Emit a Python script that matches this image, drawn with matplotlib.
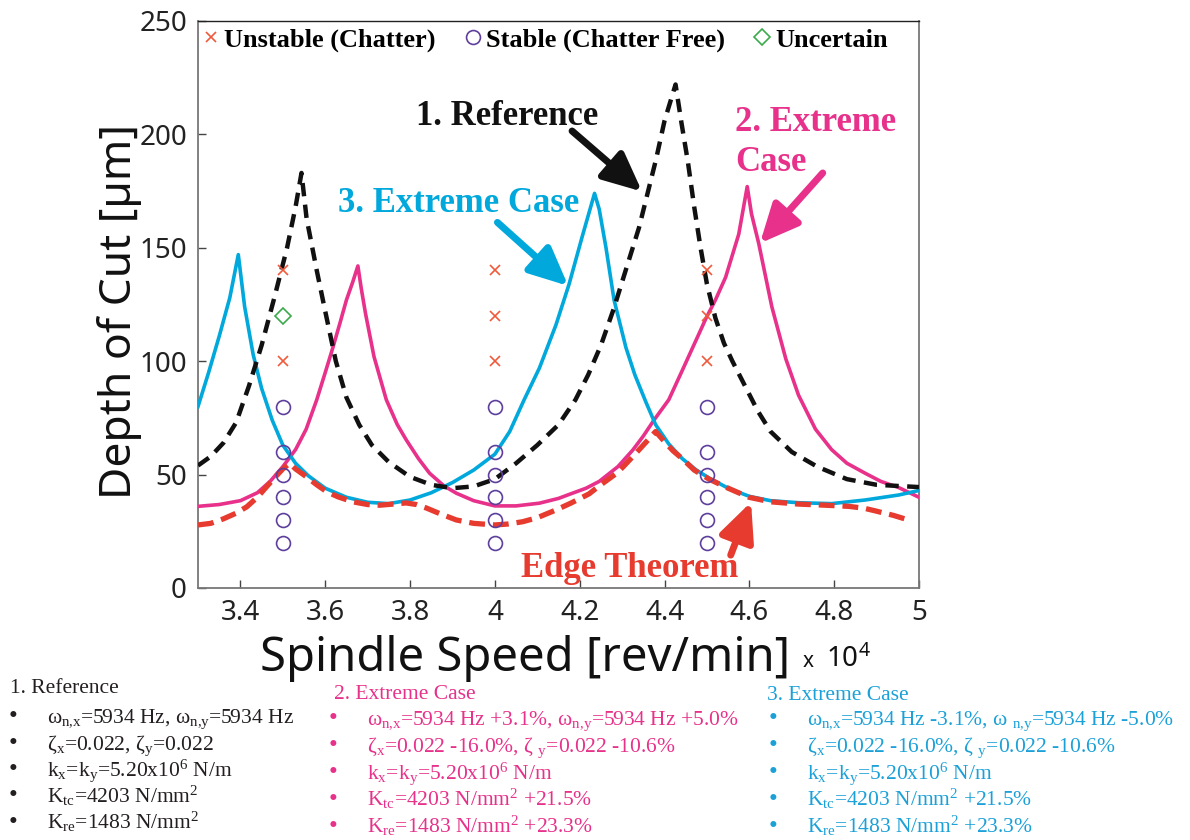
import matplotlib
matplotlib.use("Agg")
import matplotlib.pyplot as plt
from matplotlib.lines import Line2D

# -----------------------------
# Data
# spindle speed in 1e4 rev/min, depth of cut in um
# -----------------------------
ref_speed = [3.300, 3.330, 3.360, 3.390, 3.420, 3.450, 3.480, 3.510, 3.530, 3.544,
             3.556, 3.580, 3.600, 3.625, 3.650, 3.680, 3.710, 3.750, 3.800, 3.850,
             3.900, 3.950, 4.000, 4.050, 4.100, 4.150, 4.190, 4.220, 4.250, 4.280,
             4.310, 4.340, 4.360, 4.380, 4.400, 4.426, 4.440, 4.455, 4.470, 4.485,
             4.500, 4.520, 4.540, 4.560, 4.590, 4.620, 4.650, 4.700, 4.760, 4.830,
             4.900, 5.000]
ref_depth = [54.0, 58.0, 64.0, 73.0, 89.0, 107.0, 128.0, 150.0, 168.0, 183.0,
             163.0, 140.0, 122.0, 100.0, 84.0, 72.0, 63.0, 55.5, 49.0, 45.5,
             44.0, 44.8, 48.0, 55.0, 63.0, 72.0, 83.0, 94.0, 107.0, 123.0,
             141.0, 159.0, 174.0, 189.0, 206.0, 222.0, 205.0, 188.0, 168.0, 150.0,
             134.0, 119.0, 108.0, 100.0, 89.0, 78.0, 69.0, 60.0, 53.5, 48.0,
             45.5, 44.5]

ext2_speed = [3.300, 3.350, 3.400, 3.440, 3.470, 3.500, 3.530, 3.555, 3.580, 3.600,
              3.618, 3.635, 3.650, 3.665, 3.677, 3.685, 3.695, 3.715, 3.744, 3.770,
              3.791, 3.820, 3.846, 3.880, 3.909, 3.950, 4.000, 4.050, 4.105, 4.150,
              4.183, 4.215, 4.246, 4.290, 4.325, 4.350, 4.375, 4.410, 4.442, 4.481,
              4.498, 4.520, 4.544, 4.575, 4.595, 4.605, 4.622, 4.653, 4.686, 4.716,
              4.756, 4.794, 4.830, 4.873, 4.910, 4.952, 5.000]
ext2_depth = [36.0, 36.8, 38.5, 42.0, 47.0, 53.5, 61.0, 70.0, 83.0, 95.0,
              106.0, 117.0, 127.0, 135.0, 142.0, 132.0, 121.0, 102.0, 83.0, 72.0,
              65.3, 57.0, 50.6, 45.0, 41.8, 38.5, 36.2, 36.2, 37.4, 39.5,
              41.8, 44.0, 47.0, 53.5, 60.8, 67.0, 74.0, 83.0, 96.0, 112.0,
              119.0, 127.0, 137.0, 156.0, 177.0, 165.0, 152.0, 124.0, 101.0, 85.0,
              70.0, 61.0, 55.0, 50.6, 47.0, 44.3, 40.0]

ext3_speed = [3.300, 3.325, 3.350, 3.375, 3.395, 3.410, 3.430, 3.450, 3.475, 3.500,
              3.530, 3.560, 3.600, 3.650, 3.700, 3.750, 3.800, 3.850, 3.900, 3.950,
              4.000, 4.035, 4.069, 4.105, 4.144, 4.175, 4.206, 4.235, 4.246, 4.262,
              4.281, 4.309, 4.330, 4.356, 4.379, 4.410, 4.442, 4.475, 4.505, 4.550,
              4.600, 4.650, 4.716, 4.794, 4.873, 4.952, 5.000]
ext3_depth = [80.0, 95.0, 111.0, 128.0, 147.0, 124.0, 103.0, 88.0, 74.0, 63.0,
              55.0, 49.5, 44.0, 40.0, 37.8, 37.2, 38.8, 42.0, 46.5, 52.0,
              59.0, 69.0, 83.0, 97.0, 116.0, 134.0, 155.0, 174.0, 167.0, 150.0,
              127.0, 106.0, 94.0, 82.0, 72.0, 63.5, 57.0, 52.0, 48.5, 44.0,
              40.4, 38.5, 37.6, 37.2, 38.8, 41.0, 43.0]

edge_speed = [3.300, 3.330, 3.360, 3.390, 3.415, 3.440, 3.462, 3.480, 3.500, 3.516,
              3.530, 3.556, 3.580, 3.603, 3.630, 3.665, 3.700, 3.728, 3.760, 3.791,
              3.815, 3.838, 3.870, 3.909, 3.950, 4.000, 4.030, 4.065, 4.100, 4.144,
              4.180, 4.222, 4.246, 4.290, 4.325, 4.350, 4.379, 4.400, 4.420, 4.442,
              4.470, 4.505, 4.550, 4.599, 4.650, 4.716, 4.780, 4.834, 4.870, 4.897,
              4.940, 4.975]
edge_depth = [27.8, 28.5, 30.5, 33.0, 35.8, 40.0, 44.7, 48.5, 52.5, 55.0,
              52.5, 49.0, 45.5, 42.5, 40.2, 38.0, 36.8, 36.5, 37.0, 37.5,
              36.8, 35.3, 32.8, 30.0, 28.5, 27.8, 28.2, 29.2, 31.0, 34.4,
              37.5, 41.5, 45.0, 51.0, 57.9, 63.0, 69.0, 64.5, 60.5, 57.0,
              52.0, 48.0, 44.0, 40.0, 38.0, 37.0, 36.5, 36.0, 35.2, 34.0,
              32.0, 30.0]

unstable_speed = [3.5, 3.5, 4.0, 4.0, 4.0, 4.5, 4.5, 4.5]
unstable_depth = [140, 100, 140, 120, 100, 140, 120, 100]

stable_speed = [3.5] * 6 + [4.0] * 6 + [4.5] * 6
stable_depth = [80, 60, 50, 40, 30, 20] * 3

uncertain_speed = [3.5]
uncertain_depth = [120]

x_ticks = [3.4, 3.6, 3.8, 4.0, 4.2, 4.4, 4.6, 4.8, 5.0]
x_tick_labels = ["3.4", "3.6", "3.8", "4", "4.2", "4.4", "4.6", "4.8", "5"]
y_ticks = [0, 50, 100, 150, 200, 250]

legend_labels = ["Unstable (Chatter)", "Stable (Chatter Free)", "Uncertain"]

col1_title = "1. Reference"
col1_lines = [
    "ω$_{n{,}x}$=5934 Hz, ω$_{n{,}y}$=5934 Hz",
    "ζ$_x$=0.022, ζ$_y$=0.022",
    "k$_x$=k$_y$=5.20x10$^6$ N/m",
    "K$_{tc}$=4203 N/mm$^2$",
    "K$_{re}$=1483 N/mm$^2$",
]
col2_title = "2. Extreme Case"
col2_lines = [
    "ω$_{n{,}x}$=5934 Hz +3.1%, ω$_{n{,}y}$=5934 Hz +5.0%",
    "ζ$_x$=0.022 -16.0%, ζ $_y$=0.022 -10.6%",
    "k$_x$=k$_y$=5.20x10$^6$ N/m",
    "K$_{tc}$=4203 N/mm$^2$ +21.5%",
    "K$_{re}$=1483 N/mm$^2$ +23.3%",
]
col3_title = "3. Extreme Case"
col3_lines = [
    "ω$_{n{,}x}$=5934 Hz -3.1%, ω $_{n{,}y}$=5934 Hz -5.0%",
    "ζ$_x$=0.022 -16.0%, ζ $_y$=0.022 -10.6%",
    "k$_x$=k$_y$=5.20x10$^6$ N/m",
    "K$_{tc}$=4203 N/mm$^2$ +21.5%",
    "K$_{re}$=1483 N/mm$^2$ +23.3%",
]

# -----------------------------
# Style
# -----------------------------
C_CYAN = "#00A8DC"
C_MAGENTA = "#E7318A"
C_RED = "#E63B2E"
C_BLACK = "#111111"
C_XMARK = "#EE5A3C"
C_CIRCLE = "#5E3F9E"
C_DIAMOND = "#3BAA4B"

SERIF = "Liberation Serif"
SANS = "Noto Sans"

plt.rcParams["mathtext.default"] = "regular"

W, H = 1190, 840
fig = plt.figure(figsize=(W / 100, H / 100), dpi=100)
fig.patch.set_facecolor("white")

# axes box in pixels: left 198, right 919, top 21, bottom 588
ax = fig.add_axes([198 / W, 1 - 588 / H, (919 - 198) / W, (588 - 21) / H])


def fig_xy(px, py):
    return px / W, 1 - py / H


# curves
ax.plot(ext2_speed, ext2_depth, color=C_MAGENTA, lw=2.6, zorder=3)
ax.plot(ext3_speed, ext3_depth, color=C_CYAN, lw=2.6, zorder=3)
ax.plot(ref_speed, ref_depth, color=C_BLACK, lw=3.2, dashes=(3.0, 1.9), zorder=4)
ax.plot(edge_speed, edge_depth, color=C_RED, lw=3.8, dashes=(3.0, 1.5), zorder=5)

# experiment markers
ax.plot(unstable_speed, unstable_depth, ls="none", marker="x", ms=7, mew=1.2,
        color=C_XMARK, zorder=6)
ax.plot(stable_speed, stable_depth, ls="none", marker="o", ms=10, mew=1.2,
        mfc="none", mec=C_CIRCLE, zorder=6)
ax.plot(uncertain_speed, uncertain_depth, ls="none", marker="D", ms=8.5, mew=1.2,
        mfc="none", mec=C_DIAMOND, zorder=6)

ax.set_xlim(3.3, 5.0)
ax.set_ylim(0, 250)
ax.set_xticks(x_ticks)
ax.set_xticklabels(x_tick_labels)
ax.set_yticks(y_ticks)

ax.tick_params(direction="in", length=6, width=1, colors="#444444",
               labelcolor="#222222", labelsize=20, top=False, right=False, pad=8)
for lab in ax.get_xticklabels() + ax.get_yticklabels():
    lab.set_family(SANS)

for side, spine in ax.spines.items():
    spine.set_color("#777777")
    spine.set_linewidth(1.3)
ax.spines["top"].set_color("#222222")
ax.spines["top"].set_linewidth(1.0)

ax.set_ylabel("Depth of Cut [µm]", fontsize=32, family=SANS, color="#111111")
ax.yaxis.set_label_coords(-0.078, 0.487)
ax.set_xlabel("Spindle Speed [rev/min]", fontsize=34, family=SANS, color="#111111")
ax.xaxis.set_label_coords(0.4535, -0.083)
fig.text(*fig_xy(803, 667), "x", fontsize=15, family=SANS, color="#111111",
         va="baseline", ha="left")
fig.text(*fig_xy(826, 667), "10$^4$", fontsize=20, family=SANS, color="#111111",
         va="baseline", ha="left")

# legend row at the top of the axes
handles = [
    Line2D([], [], ls="none", marker="x", ms=7, mew=1.2, color=C_XMARK),
    Line2D([], [], ls="none", marker="o", ms=10, mew=1.2, mfc="none", mec=C_CIRCLE),
    Line2D([], [], ls="none", marker="D", ms=8.5, mew=1.2, mfc="none", mec=C_DIAMOND),
]
ax.legend(handles, legend_labels, loc="center left", bbox_to_anchor=(0.009, 1 - 19 / 567),
          ncol=3, frameon=False, borderpad=0, borderaxespad=0, handlelength=0.5,
          handletextpad=0.25, columnspacing=1.15,
          prop={"family": SERIF, "weight": "bold", "size": 19})

# callouts
ann_font = dict(family=SERIF, weight="bold", fontsize=25, va="baseline", ha="left")
ax.text(3.815, 204.1, "1. Reference", color=C_BLACK, **ann_font)
ax.text(3.629, 166.0, "3. Extreme Case", color=C_CYAN, **ann_font)
ax.text(4.566, 201.5, "2. Extreme", color=C_MAGENTA, **ann_font)
ax.text(4.566, 183.9, "Case", color=C_MAGENTA, **ann_font)
ax.text(4.062, 4.85, "Edge Theorem", color=C_RED, **ann_font)


def arrow(tip, tail, color):
    ax.annotate("", xy=tip, xytext=tail,
                arrowprops=dict(arrowstyle="-|>,head_length=1.3,head_width=0.6",
                                lw=5, color=color, mutation_scale=18,
                                shrinkA=0, shrinkB=0),
                zorder=7)


arrow((4.347, 174.8), (4.182, 201.5), C_BLACK)
arrow((4.173, 133.2), (4.006, 161.2), C_CYAN)
arrow((4.625, 152.0), (4.773, 183.0), C_MAGENTA)
arrow((4.604, 37.9), (4.556, 14.5), C_RED)

# parameter lists below the chart
columns = [
    (col1_title, col1_lines, "#231F20", 10, 13, 47, 693, [723, 749.5, 776, 802.5, 829]),
    (col2_title, col2_lines, C_MAGENTA, 334, 333, 367, 699, [725, 752, 779, 806, 833]),
    (col3_title, col3_lines, "#1BA1D8", 767, 773, 807, 700, [725, 752, 779, 806, 833]),
]
for title, lines, color, tx, bx, lx, ty, bases in columns:
    fig.text(*fig_xy(tx, ty), title, family=SERIF, fontsize=15.5, color=color,
             va="baseline", ha="left")
    for line, base in zip(lines, bases):
        fig.text(*fig_xy(bx, base), "•", family=SERIF, fontsize=18, color=color,
                 va="baseline", ha="center")
        fig.text(*fig_xy(lx, base), line, family=SERIF, fontsize=15.5, color=color,
                 va="baseline", ha="left")

fig.savefig("out.png", dpi=100, facecolor="white")
